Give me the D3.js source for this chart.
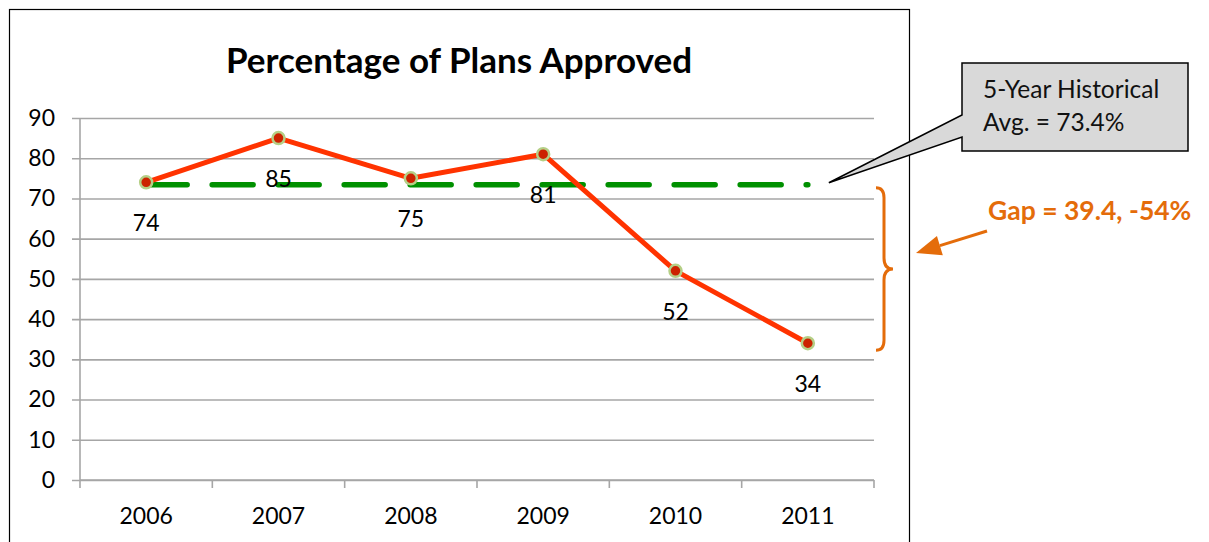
<!DOCTYPE html>
<html>
<head>
<meta charset="utf-8">
<script src="https://cdn.jsdelivr.net/npm/d3@7"></script>
<style>
  body { margin: 0; background: #fff; }
  text { font-family: Lato, "Open Sans", sans-serif; }
</style>
</head>
<body>
<div class="chart_container"></div>
<script>
var width = 1209
var height = 542

// data
var years = ["2006", "2007", "2008", "2009", "2010", "2011"]
var approved = [74, 85, 75, 81, 52, 34]
var avgValue = 73.4
var yTicks = [0, 10, 20, 30, 40, 50, 60, 70, 80, 90]
var titleText = "Percentage of Plans Approved"
var calloutLines = ["5-Year Historical", "Avg. = 73.4%"]
var gapText = "Gap = 39.4, -54%"

var orange = "#e46c0a"

var svg = d3.select(".chart_container").append("svg")
  .attr("width", width)
  .attr("height", height)

// chart frame
svg.append("rect")
  .attr("x", 9.5).attr("y", 9.5)
  .attr("width", 900).attr("height", 560)
  .style("fill", "none")
  .style("stroke", "#000")
  .style("stroke-width", 1.2)

var x = d3.scaleBand()
  .domain(years)
  .range([80, 874])
  .padding(0)

var y = d3.scaleLinear()
  .domain([0, 90])
  .range([480, 118])

function cx(d, i) { return x(years[i]) + x.bandwidth() / 2 }

// y axis with gridlines (drawn from the right edge back past the axis)
var gridLen = 874 - 72
var axisLeft = d3.axisLeft(y)
  .tickValues(yTicks)
  .tickSizeInner(gridLen)
  .tickSizeOuter(0)
  .tickPadding(17)

var gy = svg.append("g")
  .attr("transform", "translate(874,0)")
  .call(axisLeft)
gy.select(".domain").remove()
gy.selectAll("line").style("stroke", "#a6a6a6").style("stroke-width", 1.6)
gy.selectAll("text")
  .style("font-size", "23px")
  .style("font-family", "Lato, 'Open Sans', sans-serif")
  .style("fill", "#000")

// vertical axis line
svg.append("line")
  .attr("x1", 80).attr("x2", 80)
  .attr("y1", y(90)).attr("y2", y(0))
  .style("stroke", "#a6a6a6").style("stroke-width", 1.6)

// category axis
svg.append("line")
  .attr("x1", 80).attr("x2", 874)
  .attr("y1", y(0)).attr("y2", y(0))
  .style("stroke", "#a6a6a6").style("stroke-width", 1.6)

var bounds = years.map(function (d) { return x(d) }).concat([x(years[years.length - 1]) + x.bandwidth()])
svg.selectAll(".xtick")
  .data(bounds)
  .enter().append("line")
  .attr("class", "xtick")
  .attr("x1", function (d) { return d }).attr("x2", function (d) { return d })
  .attr("y1", y(0)).attr("y2", y(0) + 8)
  .style("stroke", "#a6a6a6").style("stroke-width", 1.6)

svg.selectAll(".xlabel")
  .data(years)
  .enter().append("text")
  .attr("class", "xlabel")
  .attr("x", function (d) { return x(d) + x.bandwidth() / 2 })
  .attr("y", 524)
  .style("text-anchor", "middle")
  .style("font-size", "23px")
  .text(function (d) { return d })

// title
svg.append("text")
  .attr("x", 459)
  .attr("y", 73)
  .style("text-anchor", "middle")
  .style("font-size", "35px")
  .style("font-weight", "bold")
  .text(titleText)

// average line (dashed)
var avgLine = d3.line()
  .x(cx)
  .y(function () { return y(avgValue) })

svg.append("path")
  .datum(years)
  .attr("d", avgLine)
  .style("fill", "none")
  .style("stroke", "#009000")
  .style("stroke-width", 5.5)
  .style("stroke-linecap", "round")
  .style("stroke-dasharray", "41,25")

// approved series
var line = d3.line()
  .x(cx)
  .y(function (d) { return y(d) })

svg.append("path")
  .datum(approved)
  .attr("d", line)
  .style("fill", "none")
  .style("stroke", "#ff3300")
  .style("stroke-width", 5)
  .style("stroke-linejoin", "round")

svg.selectAll(".pt")
  .data(approved)
  .enter().append("circle")
  .attr("class", "pt")
  .attr("cx", cx)
  .attr("cy", function (d) { return y(d) })
  .attr("r", 6)
  .style("fill", "#cc2200")
  .style("stroke", "#b5cf86")
  .style("stroke-width", 2.5)

svg.selectAll(".dlabel")
  .data(approved)
  .enter().append("text")
  .attr("class", "dlabel")
  .attr("x", cx)
  .attr("y", function (d) { return y(d) + 49 })
  .style("text-anchor", "middle")
  .style("font-size", "23px")
  .text(function (d) { return d })

// callout with pointer
var lastX = x(years[years.length - 1]) + x.bandwidth() / 2
var tipX = lastX + 21, tipY = y(avgValue) - 2
var bx0 = 962, by0 = 63, bx1 = 1188, by1 = 151
var callout = d3.path()
callout.moveTo(bx0, by0)
callout.lineTo(bx1, by0)
callout.lineTo(bx1, by1)
callout.lineTo(bx0, by1)
callout.lineTo(bx0, 137)
callout.lineTo(tipX, tipY)
callout.lineTo(bx0, 115)
callout.closePath()

svg.append("path")
  .attr("d", callout.toString())
  .style("fill", "#d9d9d9")
  .style("stroke", "#000")
  .style("stroke-width", 1.5)
  .style("stroke-linejoin", "miter")

svg.selectAll(".callout")
  .data(calloutLines)
  .enter().append("text")
  .attr("class", "callout")
  .attr("x", 983)
  .attr("y", function (d, i) { return 98 + i * 33 })
  .style("font-size", "24.5px")
  .style("fill", "#111")
  .text(function (d) { return d })

// brace for the gap
var braceTop = y(avgValue) + 3, braceBot = y(approved[approved.length - 1]) + 7
var braceMid = (braceTop + braceBot) / 2
var bl = 876, bs = 884, bc = 893
var brace = d3.path()
brace.moveTo(bl, braceTop)
brace.quadraticCurveTo(bs, braceTop, bs, braceTop + 10)
brace.lineTo(bs, braceMid - 11)
brace.quadraticCurveTo(bs, braceMid, bc, braceMid)
brace.quadraticCurveTo(bs, braceMid, bs, braceMid + 11)
brace.lineTo(bs, braceBot - 10)
brace.quadraticCurveTo(bs, braceBot, bl, braceBot)

svg.append("path")
  .attr("d", brace.toString())
  .style("fill", "none")
  .style("stroke", orange)
  .style("stroke-width", 3)

// arrow
var ax0 = 987, ay0 = 231, ax1 = 916, ay1 = 253
var dx = ax1 - ax0, dy = ay1 - ay0
var len = Math.sqrt(dx * dx + dy * dy)
var ux = dx / len, uy = dy / len
var hb = [ax1 - ux * 25, ay1 - uy * 25]
svg.append("line")
  .attr("x1", ax0).attr("y1", ay0)
  .attr("x2", hb[0]).attr("y2", hb[1])
  .style("stroke", orange)
  .style("stroke-width", 3)
svg.append("polygon")
  .attr("points", [
    [ax1, ay1],
    [hb[0] - uy * 10, hb[1] + ux * 10],
    [hb[0] + uy * 10, hb[1] - ux * 10]
  ].join(" "))
  .style("fill", orange)

svg.append("text")
  .attr("x", 988)
  .attr("y", 220)
  .style("font-size", "26.5px")
  .style("font-weight", "bold")
  .style("fill", orange)
  .text(gapText)
</script>
</body>
</html>
